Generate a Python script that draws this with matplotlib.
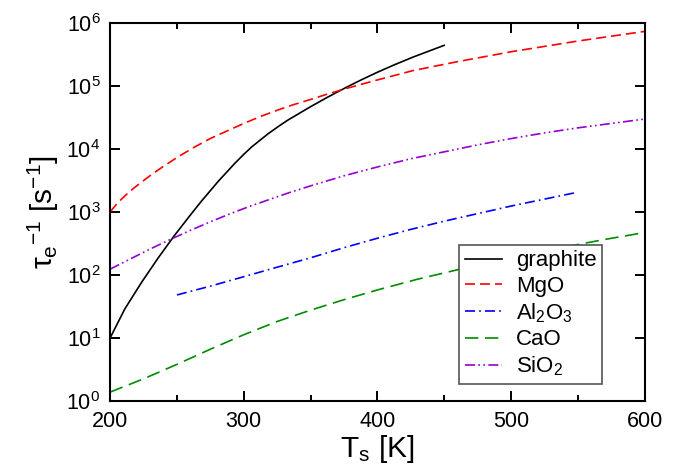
import numpy as np
import matplotlib.pyplot as plt
from matplotlib.ticker import MultipleLocator, LogLocator, NullLocator

plt.rcParams['font.family'] = ['Liberation Sans', 'DejaVu Sans']
plt.rcParams['mathtext.fontset'] = 'custom'
plt.rcParams['mathtext.rm'] = 'Liberation Sans'
plt.rcParams['mathtext.it'] = 'Liberation Sans'
plt.rcParams['mathtext.sf'] = 'Liberation Sans'

# inverse relaxation time [1/s] vs surface temperature [K]
T_graphite = [200, 211, 223.5, 236, 248, 259, 268, 281, 293.4, 300, 305.8, 318.4, 327.3,
              333.3, 350, 362.5, 376, 388, 400, 413, 427, 450]
rate_graphite = [10, 28.8, 75.9, 186, 417, 832, 1445, 3055, 5888, 8128, 10617, 17378, 23605,
                 28642, 46345, 65163, 92257, 123595, 162930, 215278, 285102, 435512]

T_mgo = [200, 206, 212, 218, 223.5, 231, 238.5, 250, 263.4, 275, 287.5, 300, 312.5, 325,
         337.5, 350, 362.5, 376, 388, 400, 427, 460, 501, 551, 600]
rate_mgo = [1000, 1413, 1862, 2399, 2951, 3890, 5012, 7240, 10700, 14500, 19100, 25100,
            32400, 40700, 50100, 60300, 73300, 89100, 105000, 123000, 174000, 240000,
            347000, 513000, 724000]

T_al2o3 = [250, 275, 300, 325, 350, 375, 400, 425, 450, 475, 500, 525, 550]
rate_al2o3 = [47.9, 66.1, 93.3, 132, 186, 269, 380, 525, 708, 933, 1230, 1585, 2042]

T_cao = [200, 225, 250, 275, 300, 325, 350, 375, 400, 430, 462, 500, 535, 570, 600]
rate_cao = [1.38, 2.24, 3.80, 6.61, 11.2, 18.2, 27.5, 40.3, 57.5, 85.1, 123, 186, 263,
            363, 468]

T_sio2 = [200, 215, 230, 245, 260, 275, 290, 305, 320, 335, 350, 375, 400, 425, 450,
          475, 500, 525, 550, 575, 600]
rate_sio2 = [123, 178, 257, 363, 507, 692, 933, 1230, 1585, 2042, 2570, 3715, 5129, 6918,
             8913, 11482, 14454, 17783, 21380, 25119, 29512]

fig = plt.figure(figsize=(6.8, 4.7), dpi=100)
ax = fig.add_axes([0.162, 0.147, 0.786, 0.805])

ax.plot(T_graphite, rate_graphite, color='black', lw=1.2, label='graphite')
ax.plot(T_mgo, rate_mgo, color='#ff0000', lw=1.2, dashes=(6, 3), label='MgO')
ax.plot(T_al2o3, rate_al2o3, color='#0000ff', lw=1.2, dashes=(6, 2.5, 1, 2.5), label='Al$_2$O$_3$')
ax.plot(T_cao, rate_cao, color='#008c00', lw=1.2, dashes=(8, 4), label='CaO')
ax.plot(T_sio2, rate_sio2, color='#9400d3', lw=1.2, dashes=(6, 2, 1, 2, 1, 2), label='SiO$_2$')

ax.set_yscale('log')
ax.set_xlim(200, 600)
ax.set_ylim(1, 1e6)
ax.xaxis.set_major_locator(MultipleLocator(100))
ax.xaxis.set_minor_locator(MultipleLocator(50))
ax.yaxis.set_major_locator(LogLocator(base=10, numticks=10))
ax.yaxis.set_minor_locator(NullLocator())

ax.tick_params(which='both', direction='in', top=True, right=True, width=1.4, labelsize=15.5)
ax.tick_params(which='major', length=7.5)
ax.tick_params(which='minor', length=4)
ax.tick_params(axis='x', pad=7)
ax.tick_params(axis='y', pad=7)
for sp in ax.spines.values():
    sp.set_linewidth(1.5)

ax.set_xlabel(r'T$_{\rm s}$ [K]', fontsize=21.5, labelpad=1)
ax.set_ylabel(r'$\tau_{\rm e}{}^{{-}1}$ [s$^{{-}1}$]', fontsize=21.5, labelpad=4)

leg = ax.legend(loc='lower right', bbox_to_anchor=(0.92, 0.045), fontsize=16,
                frameon=True, fancybox=False, edgecolor='#555555', framealpha=1,
                handlelength=1.7, handletextpad=0.6, labelspacing=0.2,
                borderpad=0.25, borderaxespad=0)
leg.get_frame().set_linewidth(1.2)

fig.savefig('out.png', dpi=100)
